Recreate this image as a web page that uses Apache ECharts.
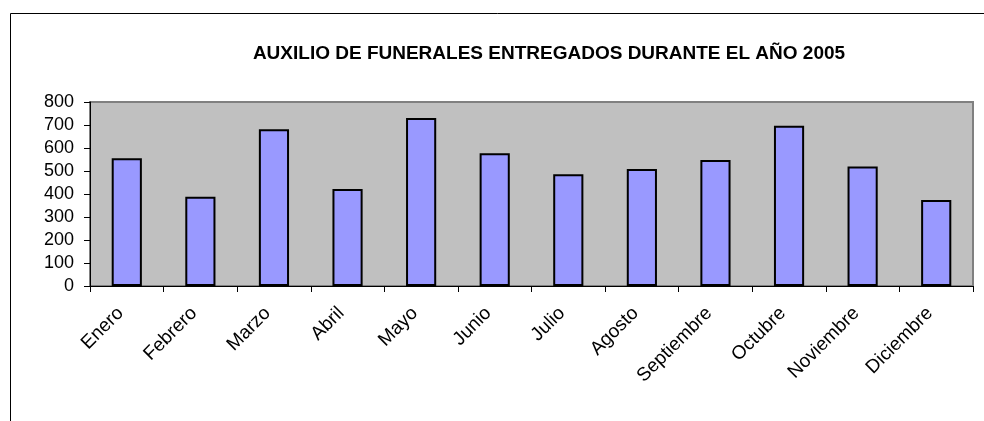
<!DOCTYPE html>
<html>
<head>
<meta charset="utf-8">
<script src="https://cdn.jsdelivr.net/npm/echarts@6/dist/echarts.min.js"></script>
<style>
  html, body { margin: 0; padding: 0; background: #fff; }
  #chart { width: 984px; height: 421px; }
</style>
</head>
<body>
<div id="chart"></div>
<script>
const months = ['Enero', 'Febrero', 'Marzo', 'Abril', 'Mayo', 'Junio', 'Julio',
    'Agosto', 'Septiembre', 'Octubre', 'Noviembre', 'Diciembre'];
const funerales = [555, 388, 681, 422, 730, 577, 486, 509, 548, 697, 520, 374];

const chart = echarts.init(document.getElementById('chart'));

chart.setOption({
    animation: false,
    title: {
        text: 'AUXILIO DE FUNERALES ENTREGADOS DURANTE EL AÑO 2005',
        left: 544,
        top: 39,
        textAlign: 'center',
        textStyle: {
            fontFamily: 'Liberation Sans, Arial, sans-serif',
            fontSize: 19,
            fontWeight: 'bold',
            color: '#000'
        }
    },
    graphic: [{
        type: 'rect',
        shape: { x: 10.5, y: 13.5, width: 990, height: 420 },
        style: { fill: 'none', stroke: '#000', lineWidth: 1 },
        silent: true
    }],
    grid: {
        left: 90,
        right: 11,
        top: 102,
        bottom: 135,
        show: true,
        backgroundColor: '#C0C0C0',
        borderColor: '#808080',
        borderWidth: 2
    },
    xAxis: {
        type: 'category',
        data: months,
        axisLine: { lineStyle: { color: '#000', width: 1 } },
        axisTick: { show: true, length: 6, alignWithLabel: false, lineStyle: { color: '#000' } },
        axisLabel: {
            rotate: 45,
            interval: 0,
            margin: 18,
            padding: [0, 9, 0, 0],
            fontFamily: 'Liberation Sans, Arial, sans-serif',
            fontSize: 19,
            color: '#000'
        }
    },
    yAxis: {
        type: 'value',
        min: 0,
        max: 800,
        interval: 100,
        splitLine: { show: false },
        axisLine: { show: true, lineStyle: { color: '#000', width: 1 } },
        axisTick: { show: true, length: 6, lineStyle: { color: '#000' } },
        axisLabel: {
            margin: 16,
            fontFamily: 'Liberation Sans, Arial, sans-serif',
            fontSize: 18,
            color: '#000'
        }
    },
    series: [{
        type: 'bar',
        data: funerales,
        barWidth: '41%',
        itemStyle: {
            color: '#9999FF',
            borderColor: '#000',
            borderWidth: 2
        }
    }]
});
</script>
</body>
</html>
